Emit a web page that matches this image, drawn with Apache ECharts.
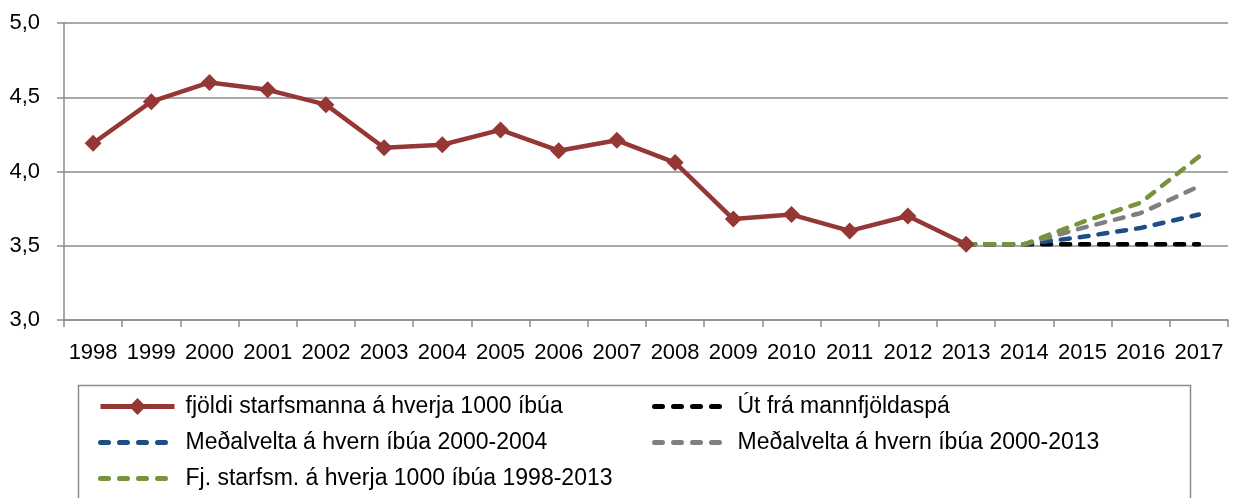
<!DOCTYPE html>
<html>
<head>
<meta charset="utf-8">
<script src="https://cdn.jsdelivr.net/npm/echarts@6/dist/echarts.min.js"></script>
<style>
  html, body { margin: 0; padding: 0; background: #fff; }
  #chart { width: 1237px; height: 498px; }
</style>
</head>
<body>
<div id="chart"></div>
<script>
const years = ['1998', '1999', '2000', '2001', '2002', '2003', '2004', '2005', '2006', '2007',
  '2008', '2009', '2010', '2011', '2012', '2013', '2014', '2015', '2016', '2017']

// fjöldi starfsmanna á hverja 1000 íbúa
const starfsmenn = [4.19, 4.47, 4.60, 4.55, 4.45, 4.16, 4.18, 4.28, 4.14, 4.21,
  4.06, 3.68, 3.71, 3.60, 3.70, 3.51, null, null, null, null]
// spár 2013-2017
const mannfjoldaspa = [null, null, null, null, null, null, null, null, null, null,
  null, null, null, null, null, 3.51, 3.51, 3.51, 3.51, 3.51]
const medalvelta0004 = [null, null, null, null, null, null, null, null, null, null,
  null, null, null, null, null, 3.51, 3.51, 3.56, 3.62, 3.71]
const medalvelta0013 = [null, null, null, null, null, null, null, null, null, null,
  null, null, null, null, null, 3.51, 3.51, 3.62, 3.72, 3.90]
const fjStarfsm = [null, null, null, null, null, null, null, null, null, null,
  null, null, null, null, null, 3.51, 3.51, 3.66, 3.79, 4.10]

const names = [
  'fjöldi starfsmanna á hverja 1000 íbúa',
  'Út frá mannfjöldaspá',
  'Meðalvelta á hvern íbúa 2000-2004',
  'Meðalvelta á hvern íbúa 2000-2013',
  'Fj. starfsm. á hverja 1000 íbúa 1998-2013'
]

const font = '"Liberation Sans", Arial, sans-serif'
const gridColor = '#8c8c8c'
const dashType = [9, 10]

function dashed(name, data, color) {
  return {
    name,
    type: 'line',
    data,
    symbol: 'none',
    lineStyle: { color, width: 4.5, type: dashType, cap: 'round' },
    itemStyle: { color }
  }
}

// legend entry for a dashed series: no marker, only the dashes
function dashItem(name) {
  return {
    name,
    itemStyle: { opacity: 0 },
    lineStyle: { width: 5, type: [8, 11], cap: 'round' }
  }
}

const legendText = { fontSize: 23, color: '#000', fontFamily: font, padding: [0, 0, 0, 6] }

const chart = echarts.init(document.getElementById('chart'))
chart.setOption({
  animation: false,
  textStyle: { fontFamily: font },
  grid: { left: 64, right: 9, top: 23, bottom: 178, containLabel: false },
  xAxis: {
    type: 'category',
    data: years,
    boundaryGap: true,
    axisLine: { lineStyle: { color: gridColor, width: 1.5 } },
    axisTick: { show: true, length: 7, lineStyle: { color: gridColor, width: 1.5 } },
    axisLabel: { color: '#000', fontSize: 22, margin: 22, interval: 0, fontFamily: font }
  },
  yAxis: {
    type: 'value',
    min: 3,
    max: 5,
    interval: 0.5,
    axisLine: { show: true, lineStyle: { color: gridColor, width: 1.5 } },
    axisTick: { show: true, length: 7, lineStyle: { color: gridColor, width: 1.5 } },
    splitLine: { lineStyle: { color: gridColor, width: 1.5 } },
    axisLabel: {
      color: '#000', fontSize: 22, margin: 24, fontFamily: font,
      formatter: v => v.toFixed(1).replace('.', ',')
    }
  },
  graphic: [{
    type: 'rect',
    shape: { x: 78.5, y: 385.5, width: 1112, height: 130 },
    style: { fill: 'none', stroke: gridColor, lineWidth: 1.5 },
    silent: true
  }],
  legend: [{
    orient: 'vertical',
    left: 93,
    top: 390,
    itemWidth: 74,
    itemHeight: 21,
    itemGap: 13,
    data: [
      { name: names[0], lineStyle: { width: 5 } },
      dashItem(names[2]),
      dashItem(names[4])
    ],
    textStyle: legendText
  }, {
    orient: 'vertical',
    left: 647,
    top: 390,
    itemWidth: 72,
    itemHeight: 21,
    itemGap: 13,
    data: [dashItem(names[1]), dashItem(names[3])],
    textStyle: legendText
  }],
  series: [
    {
      name: names[0],
      type: 'line',
      data: starfsmenn,
      symbol: 'diamond',
      symbolSize: 17,
      lineStyle: { color: '#953735', width: 4.5 },
      itemStyle: { color: '#953735' },
      z: 3
    },
    dashed(names[1], mannfjoldaspa, '#000000'),
    dashed(names[2], medalvelta0004, '#1f4e85'),
    dashed(names[3], medalvelta0013, '#7f7f7f'),
    dashed(names[4], fjStarfsm, '#77933c')
  ]
})
</script>
</body>
</html>
